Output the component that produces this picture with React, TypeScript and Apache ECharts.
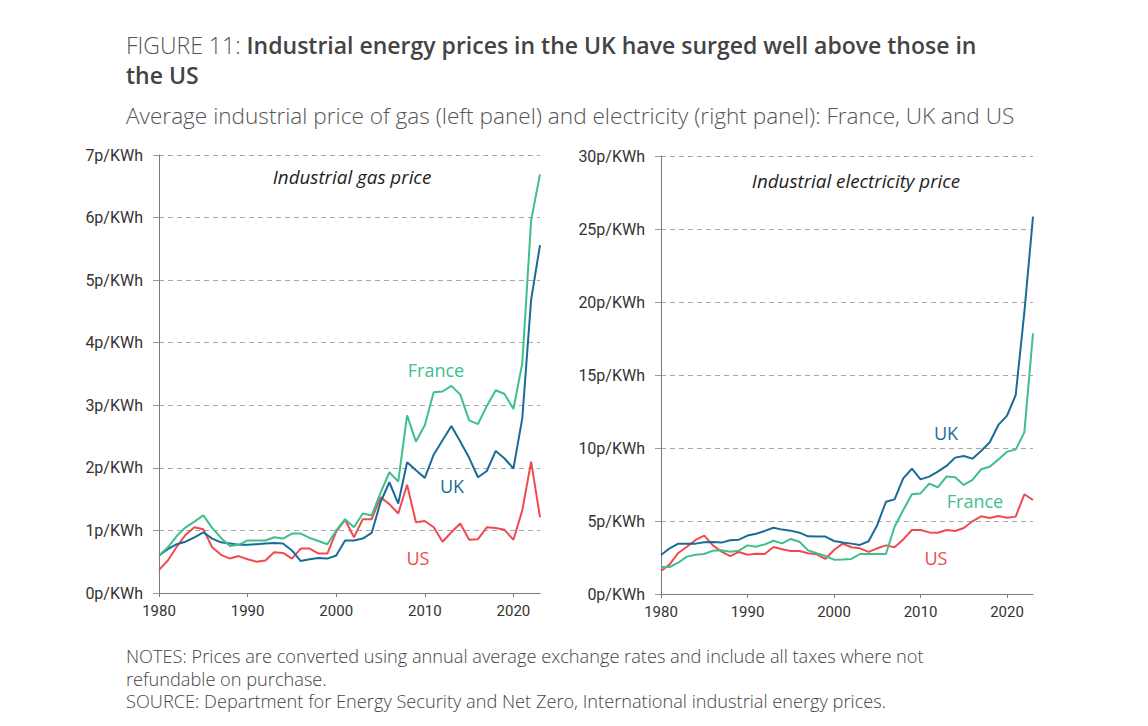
import { useEffect, useRef } from "react";
import * as echarts from "echarts";

// Years covered by both panels
const years = [
  1980, 1981, 1982, 1983, 1984, 1985, 1986, 1987, 1988, 1989,
  1990, 1991, 1992, 1993, 1994, 1995, 1996, 1997, 1998, 1999,
  2000, 2001, 2002, 2003, 2004, 2005, 2006, 2007, 2008, 2009,
  2010, 2011, 2012, 2013, 2014, 2015, 2016, 2017, 2018, 2019,
  2020, 2021, 2022, 2023,
];

// Industrial gas price, pence per kWh
const gasFrance = [
  0.6, 0.73, 0.91, 1.05, 1.14, 1.24, 1.04, 0.88, 0.75, 0.77,
  0.84, 0.84, 0.84, 0.89, 0.87, 0.95, 0.95, 0.88, 0.83, 0.78,
  1.0, 1.18, 1.05, 1.27, 1.24, 1.6, 1.93, 1.78, 2.84, 2.42,
  2.68, 3.21, 3.22, 3.31, 3.17, 2.76, 2.7, 2.99, 3.24, 3.18,
  2.94, 3.67, 5.96, 6.69,
];
const gasUK = [
  0.6, 0.7, 0.78, 0.82, 0.89, 0.97, 0.87, 0.81, 0.79, 0.77,
  0.77, 0.78, 0.79, 0.8, 0.79, 0.68, 0.51, 0.54, 0.56, 0.55,
  0.6, 0.84, 0.84, 0.87, 0.96, 1.45, 1.77, 1.43, 2.09, 1.96,
  1.84, 2.21, 2.44, 2.67, 2.42, 2.16, 1.85, 1.95, 2.27, 2.15,
  1.99, 2.79, 4.69, 5.56,
];
const gasUS = [
  0.37, 0.52, 0.74, 0.93, 1.05, 1.02, 0.73, 0.61, 0.55, 0.59,
  0.54, 0.5, 0.52, 0.65, 0.64, 0.55, 0.71, 0.71, 0.63, 0.63,
  0.98, 1.17, 0.89, 1.18, 1.18, 1.53, 1.42, 1.27, 1.73, 1.13,
  1.15, 1.05, 0.82, 0.97, 1.11, 0.85, 0.86, 1.05, 1.04, 1.01,
  0.85, 1.32, 2.1, 1.21,
];

// Industrial electricity price, pence per kWh
const elecFrance = [
  1.85, 1.85, 2.15, 2.56, 2.69, 2.74, 2.97, 2.99, 2.9, 2.97,
  3.33, 3.24, 3.4, 3.65, 3.47, 3.77, 3.58, 2.99, 2.79, 2.6,
  2.35, 2.37, 2.4, 2.74, 2.74, 2.74, 2.74, 4.61, 5.75, 6.83,
  6.89, 7.56, 7.31, 8.04, 7.99, 7.47, 7.81, 8.54, 8.72, 9.22,
  9.75, 9.89, 11.07, 17.85,
];
const elecUK = [
  2.67, 3.13, 3.45, 3.45, 3.45, 3.54, 3.56, 3.52, 3.68, 3.72,
  4.0, 4.13, 4.32, 4.54, 4.41, 4.34, 4.2, 3.95, 3.93, 3.93,
  3.63, 3.52, 3.45, 3.36, 3.61, 4.73, 6.32, 6.48, 7.92, 8.58,
  7.85, 8.04, 8.38, 8.77, 9.34, 9.45, 9.27, 9.79, 10.39, 11.58,
  12.22, 13.63, 19.3, 25.85,
];
const elecUS = [
  1.58, 2.03, 2.81, 3.24, 3.7, 4.0, 3.33, 2.9, 2.6, 2.88,
  2.69, 2.76, 2.74, 3.22, 3.06, 2.95, 2.95, 2.79, 2.72, 2.4,
  3.01, 3.45, 3.2, 3.13, 2.88, 3.13, 3.33, 3.2, 3.74, 4.38,
  4.38, 4.22, 4.2, 4.38, 4.32, 4.52, 4.98, 5.32, 5.21, 5.34,
  5.23, 5.3, 6.83, 6.44,
];

const FRANCE = "#3dbf8e";
const UK = "#1b6b97";
const US = "#f04a50";
const AXIS_FONT = "Roboto, 'Noto Sans', sans-serif";
const TEXT_FONT = "'Open Sans', Roboto, sans-serif";

const NOTES = [
  "NOTES: Prices are converted using annual average exchange rates and include all taxes where not",
  "refundable on purchase.",
  "SOURCE: Department for Energy Security and Net Zero, International industrial energy prices.",
];

export default function App() {
  const ref = useRef<HTMLDivElement>(null);

  useEffect(() => {
    if (!ref.current) return;
    const chart = echarts.init(ref.current, undefined, { renderer: "svg" });

    const xAxisBase = {
      type: "category" as const,
      data: years.map(String),
      boundaryGap: false,
      axisLine: { show: true, lineStyle: { color: "#7a7a7a", width: 1 } },
      axisTick: { show: true, interval: 9, length: 4, lineStyle: { color: "#7a7a7a" } },
      axisLabel: {
        interval: 9,
        color: "#333",
        fontSize: 15,
        fontFamily: AXIS_FONT,
        margin: 10,
      },
      splitLine: { show: false },
    };

    const yAxisBase = (max: number, interval: number) => ({
      type: "value" as const,
      min: 0,
      max,
      interval,
      axisLine: { show: true, lineStyle: { color: "#7a7a7a", width: 1 } },
      axisTick: { show: true, length: 6, lineStyle: { color: "#9a9a9a" } },
      axisLabel: {
        color: "#333",
        fontSize: 16,
        fontFamily: AXIS_FONT,
        margin: 16,
        formatter: (v: number) => `${v}p/KWh`,
      },
      splitLine: { show: true, lineStyle: { color: "#a8a8a8", type: [5, 4] as any, width: 1 } },
    });

    const line = (name: string, data: number[], color: string, idx: number) => ({
      name,
      type: "line" as const,
      xAxisIndex: idx,
      yAxisIndex: idx,
      data,
      symbol: "none",
      lineStyle: { color, width: 2 },
      itemStyle: { color },
      z: 3,
    });

    const text = (x: number, y: number, t: string, style: any) => ({
      type: "text" as const,
      x,
      y,
      style: { text: t, fontFamily: TEXT_FONT, ...style },
    });

    chart.setOption({
      animation: false,
      backgroundColor: "#ffffff",
      grid: [
        { left: 159, top: 155, width: 381, height: 438 },
        { left: 661, top: 156, width: 372, height: 438 },
      ],
      xAxis: [
        { ...xAxisBase, gridIndex: 0 },
        { ...xAxisBase, gridIndex: 1 },
      ],
      yAxis: [
        { ...yAxisBase(7, 1), gridIndex: 0 },
        { ...yAxisBase(30, 5), gridIndex: 1 },
      ],
      series: [
        line("US", gasUS, US, 0),
        line("UK", gasUK, UK, 0),
        line("France", gasFrance, FRANCE, 0),
        line("US", elecUS, US, 1),
        line("France", elecFrance, FRANCE, 1),
        line("UK", elecUK, UK, 1),
      ],
      graphic: [
        {
          type: "text",
          x: 126,
          y: 30,
          style: {
            text: "{a|FIGURE 11: }{b|Industrial energy prices in the UK have surged well above those in}\n{b|the US}",
            rich: {
              a: { fontFamily: TEXT_FONT, fontSize: 23, fontWeight: 300, fill: "#555", lineHeight: 30 },
              b: { fontFamily: TEXT_FONT, fontSize: 23, fontWeight: 600, fill: "#444", lineHeight: 30 },
            },
          },
        },
        text(126, 104, "Average industrial price of gas (left panel) and electricity (right panel): France, UK and US", {
          fontSize: 22.6,
          fontWeight: 300,
          fill: "#555",
        }),
        text(352, 177, "Industrial gas price", {
          fontSize: 18.8,
          fontStyle: "italic",
          fill: "#222",
          align: "center",
          verticalAlign: "middle",
        }),
        text(856, 181, "Industrial electricity price", {
          fontSize: 18.8,
          fontStyle: "italic",
          fill: "#222",
          align: "center",
          verticalAlign: "middle",
        }),
        text(436, 370, "France", { fontSize: 18, fill: FRANCE, align: "center", verticalAlign: "middle" }),
        text(452, 486, "UK", { fontSize: 18, fill: UK, align: "center", verticalAlign: "middle" }),
        text(418, 558, "US", { fontSize: 18, fill: US, align: "center", verticalAlign: "middle" }),
        text(946, 433, "UK", { fontSize: 18, fill: UK, align: "center", verticalAlign: "middle" }),
        text(975, 501, "France", { fontSize: 18, fill: FRANCE, align: "center", verticalAlign: "middle" }),
        text(936, 558, "US", { fontSize: 18, fill: US, align: "center", verticalAlign: "middle" }),
        text(126, 645, NOTES.join("\n"), {
          fontSize: 18.2,
          fontWeight: 300,
          fill: "#444",
          lineHeight: 22.4,
        }),
      ],
    });

    return () => chart.dispose();
  }, []);

  return (
    <div
      ref={ref}
      style={{ position: "fixed", left: 0, top: 0, width: 1148, height: 726, background: "#fff" }}
    />
  );
}
